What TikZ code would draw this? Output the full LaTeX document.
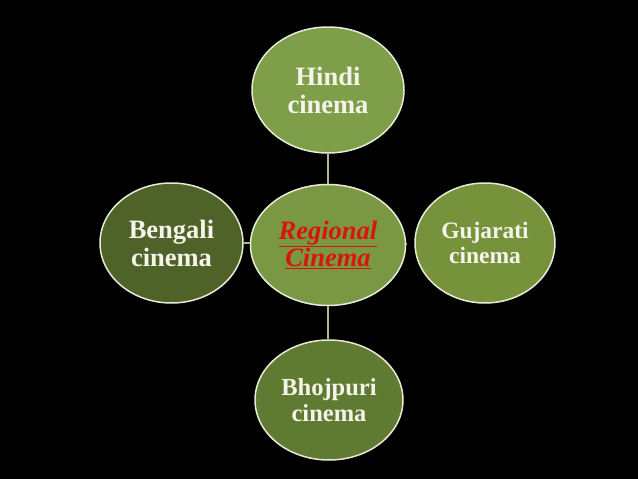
\documentclass[tikz,border=0pt]{standalone}
\usepackage{fontspec}
\setmainfont{Liberation Serif}
\usetikzlibrary{shapes.geometric}
\definecolor{bubline}{HTML}{E6EAD6}
\definecolor{conn}{HTML}{A9B98E}
\definecolor{txt}{HTML}{F4F4EA}
\definecolor{fcenter}{HTML}{7A9744}
\definecolor{fhindi}{HTML}{7F9E4A}
\definecolor{fguj}{HTML}{76933C}
\definecolor{fbhoj}{HTML}{5F7A31}
\definecolor{fbeng}{HTML}{4F6228}
\definecolor{redtxt}{HTML}{D8140C}
\begin{document}
\begin{tikzpicture}[x=1pt,y=-1pt,
  bub/.style={ellipse, draw=bubline, line width=1.5pt, inner sep=0pt,
    font=\fontsize{26.5}{28}\selectfont\bfseries, text=txt, align=center},
  link/.style={draw=conn, line width=1.3pt}]
\fill[black] (0,0) rectangle (638,479);
\useasboundingbox (0,0) rectangle (638,479);
\node[bub, fill=fcenter, minimum width=155pt, minimum height=121pt, text=redtxt,
  font=\fontsize{26.5}{27}\selectfont\bfseries\itshape] (center) at (328,245)
  {\underline{Regional}\\\underline{Cinema}};
\node[bub, fill=fhindi, minimum width=152pt, minimum height=126pt] (hindi) at (328,90) {Hindi\\cinema};
\node[bub, fill=fbeng, minimum width=143pt, minimum height=120pt] (beng) at (171.5,243) {Bengali\\cinema};
\node[bub, fill=fguj, minimum width=140pt, minimum height=120pt,
  font=\fontsize{23.5}{25}\selectfont\bfseries] (guj) at (485,243) {Gujarati\\cinema};
\node[bub, fill=fbhoj, minimum width=148pt, minimum height=120pt,
  font=\fontsize{24.5}{26}\selectfont\bfseries] (bhoj) at (329,400) {Bhojpuri\\cinema};
\path[link] (hindi) -- (center);
\path[link] (center.south) -- (center.south |- bhoj.north);
\path[link] (beng.east) -- (beng.east -| center.west);
\path[link] (center.east) -- (center.east |- guj.west);
\end{tikzpicture}
\end{document}
